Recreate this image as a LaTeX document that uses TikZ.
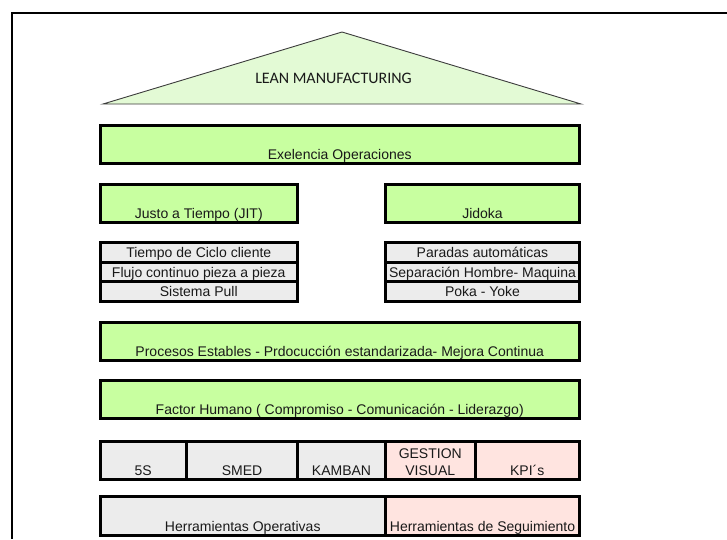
\documentclass[tikz,border=0pt]{standalone}
\usepackage{fontspec}
\setmainfont{Liberation Sans}
\newfontfamily\roofFont{Carlito}
\definecolor{boxgreen}{RGB}{200,255,160}
\definecolor{roofgreen}{RGB}{227,250,213}
\definecolor{cellgray}{RGB}{236,236,236}
\definecolor{cellpink}{RGB}{255,228,224}
\definecolor{roofline}{RGB}{60,60,60}
\begin{document}
\begin{tikzpicture}[x=1pt,y=-1pt,
  cell/.style={draw=black, line width=3pt, inner sep=0pt, outer sep=0pt,
    anchor=north west},
  pillar/.style={cell, fill=boxgreen},
  graycell/.style={cell, fill=cellgray},
  pinkcell/.style={cell, fill=cellpink},
  lbl/.style={inner sep=0pt, outer sep=0pt, anchor=base,
    font=\fontsize{14}{17}\selectfont, text=black!90},
  roof/.style={draw=roofline, line width=0.9pt, fill=roofgreen, line join=miter},
  frame/.style={draw=black, line width=2pt}
]
\useasboundingbox (0,0) rectangle (727,539);

% outer frame (runs off the right and bottom edges)
\coordinate (frameTR) at (727,13);
\coordinate (frameTL) at (12,13);
\coordinate (frameBL) at (12,539);
\draw[frame] (frameTR) -- (frameTL) -- (frameBL);

% roof
\coordinate (roofL) at (103,104);
\coordinate (roofT) at (342,32);
\coordinate (roofR) at (581,104);
\filldraw[roof] (roofL) -- (roofT) -- (roofR) -- cycle;
\node[lbl, font=\roofFont\fontsize{16}{18}\selectfont] (rooftxt) at (333.5,83) {LEAN MANUFACTURING};

% excellence beam
\node[pillar, minimum width=479.5, minimum height=38] (exel) at (100,125) {};
\node[lbl] (exeltxt) at ([yshift=4pt]exel.south) {Exelencia Operaciones};

% two pillars
\node[pillar, minimum width=197.5, minimum height=37.5] (jit) at (100,184.5) {};
\node[lbl] (jittxt) at ([yshift=3.5pt]jit.south) {Justo a Tiempo (JIT)};
\node[pillar, minimum width=194, minimum height=37.5] (jidoka) at (385.5,184.5) {};
\node[lbl] (jidokatxt) at ([yshift=3.5pt]jidoka.south) {Jidoka};

% pillar contents (left)
\node[graycell, minimum width=197.5, minimum height=19.5] (jitA) at (100,242.5) {};
\node[graycell, minimum width=197.5, minimum height=19.7] (jitB) at (100,262) {};
\node[graycell, minimum width=197.5, minimum height=19.3] (jitC) at (100,281.7) {};
\node[lbl] at ([yshift=4.5pt]jitA.south) {Tiempo de Ciclo cliente};
\node[lbl] at ([yshift=4.5pt]jitB.south) {Flujo continuo pieza a pieza};
\node[lbl] at ([yshift=4.5pt]jitC.south) {Sistema Pull};

% pillar contents (right)
\node[graycell, minimum width=194, minimum height=19.5] (jidA) at (385.5,242.5) {};
\node[graycell, minimum width=194, minimum height=19.7] (jidB) at (385.5,262) {};
\node[graycell, minimum width=194, minimum height=19.3] (jidC) at (385.5,281.7) {};
\node[lbl] at ([yshift=4.5pt]jidA.south) {Paradas automáticas};
\node[lbl] at ([yshift=4.5pt]jidB.south) {Separación Hombre- Maquina};
\node[lbl] at ([yshift=4.5pt]jidC.south) {Poka - Yoke};

% foundations
\node[pillar, minimum width=479.5, minimum height=38.5] (proc) at (100,322) {};
\node[lbl] (proctxt) at ([yshift=4pt]proc.south) {Procesos Estables - Prdocucción estandarizada- Mejora Continua};
\node[pillar, minimum width=479.5, minimum height=38.5] (human) at (100,380) {};
\node[lbl] (humantxt) at ([yshift=4pt]human.south) {Factor Humano ( Compromiso - Comunicación - Liderazgo)};

% tools row
\node[graycell, minimum width=86.5, minimum height=38] (t5s) at (100,441) {};
\node[graycell, minimum width=111, minimum height=38] (tsmed) at (186.5,441) {};
\node[graycell, minimum width=88, minimum height=38] (tkamban) at (297.5,441) {};
\node[pinkcell, minimum width=89.5, minimum height=38] (tvisual) at (385.5,441) {};
\node[pinkcell, minimum width=104.5, minimum height=38] (tkpi) at (475,441) {};
\node[lbl] at ([yshift=3.5pt]t5s.south) {5S};
\node[lbl] at ([yshift=3.5pt]tsmed.south) {SMED};
\node[lbl] at ([yshift=3.5pt]tkamban.south) {KAMBAN};
\node[lbl] at ([yshift=3.5pt]tvisual.south) {\begin{tabular}[b]{@{}c@{}}GESTION\\VISUAL\end{tabular}};
\node[lbl] at ([yshift=3.5pt]tkpi.south) {KPI´s};

% tool categories
\node[graycell, minimum width=285.5, minimum height=39] (opera) at (100,496) {};
\node[pinkcell, minimum width=194, minimum height=39] (segui) at (385.5,496) {};
\node[lbl] at ([yshift=3.5pt]opera.south) {Herramientas Operativas};
\node[lbl] at ([yshift=3.5pt]segui.south) {Herramientas de Seguimiento};
\end{tikzpicture}
\end{document}
